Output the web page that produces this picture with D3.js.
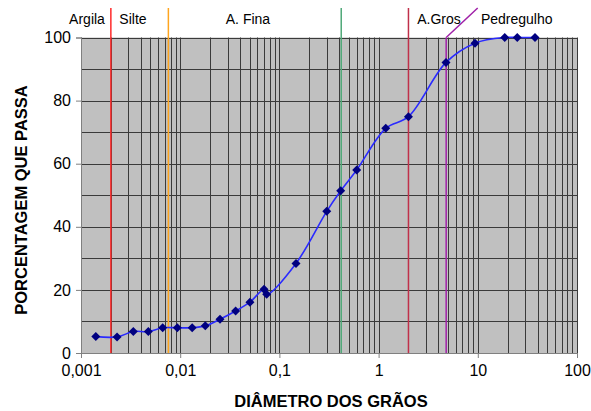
<!DOCTYPE html>
<html>
<head>
<meta charset="utf-8">
<script src="https://cdn.jsdelivr.net/npm/d3@7"></script>
<style>
  html, body { margin: 0; padding: 0; background: #ffffff; }
  svg { display: block; font-family: "Liberation Sans", Arial, sans-serif; }
</style>
</head>
<body>
<svg id="chart" width="591" height="411"></svg>
<script>
// ---- data ----
const diameters = [0.00141, 0.00231, 0.00337, 0.00477, 0.00666, 0.00935, 0.0132, 0.0179, 0.0252, 0.0362, 0.0505, 0.070, 0.0745, 0.147, 0.300, 0.415, 0.601, 1.18, 2.0, 4.78, 9.37, 18.7, 25.0, 37.7];
const passing   = [5.2, 5.1, 6.8, 6.8, 8.0, 8.0, 8.0, 8.6, 10.7, 13.3, 16.1, 20.2, 18.6, 28.4, 44.9, 51.4, 58.0, 71.2, 74.9, 92.1, 98.2, 100, 100, 100];
const xTickValues = [0.001, 0.01, 0.1, 1, 10, 100];
const xTickLabels = ["0,001", "0,01", "0,1", "1", "10", "100"];
const yTickValues = [0, 20, 40, 60, 80, 100];
const boundaryValues = [0.002, 0.0076, 0.42, 2.0, 4.8];
const boundaryColors = ["#ff2a2a", "#ffa51f", "#4fa878", "#c0304a", "#a020a8"];
const zoneLabels = ["Argila", "Silte", "A. Fina", "A.Gros", "Pedregulho"];
const zoneLabelPos = [0.00115, 0.00334, 0.0482, 4.06, 24.7];

// ---- layout ----
const W = 591, H = 411;
const L = 81, R = 577, T = 37.5, B = 353;

const svg = d3.select("#chart");
const x = d3.scaleLog().domain([0.001, 100]).range([L, R]);
const y = d3.scaleLinear().domain([0, 100]).range([B, T]);

// plot background
svg.append("rect").attr("x", L).attr("y", T).attr("width", R - L).attr("height", B - T).attr("fill", "#c0c0c0");

// vertical grid (log minor ticks)
const vTicks = x.ticks();
svg.append("g").selectAll("line").data(vTicks).join("line")
  .attr("x1", d => Math.round(x(d)) + 0.5).attr("x2", d => Math.round(x(d)) + 0.5)
  .attr("y1", T).attr("y2", B)
  .attr("stroke", "#3a3a3a").attr("stroke-width", 1);

// horizontal grid every 10
const hTicks = d3.range(10, 101, 10);
svg.append("g").selectAll("line").data(hTicks).join("line")
  .attr("x1", L).attr("x2", R)
  .attr("y1", d => Math.round(y(d)) + 0.5).attr("y2", d => Math.round(y(d)) + 0.5)
  .attr("stroke", "#3a3a3a").attr("stroke-width", 1);

// boundary lines
boundaryValues.forEach((v, i) => {
  const px = x(v);
  const top = (i === 4) ? T : 8;
  svg.append("line").attr("x1", px).attr("x2", px).attr("y1", top).attr("y2", B)
    .attr("stroke", boundaryColors[i]).attr("stroke-width", 1.5);
  if (i === 4) {
    svg.append("line").attr("x1", px).attr("y1", T).attr("x2", px + 31.5).attr("y2", 8)
      .attr("stroke", boundaryColors[i]).attr("stroke-width", 1.5);
  }
});

// axes
const xAxis = d3.axisBottom(x).tickValues(xTickValues).tickFormat((d, i) => xTickLabels[i]).tickSize(5).tickPadding(7);
const gx = svg.append("g").attr("transform", `translate(0,${B})`).call(xAxis);
gx.select(".domain").attr("stroke", "#808080");
gx.selectAll(".tick line").attr("stroke", "#808080");
gx.selectAll("text").attr("font-size", 16).attr("fill", "#000").attr("font-family", "Liberation Sans, Arial, sans-serif");

const yAxis = d3.axisLeft(y).tickValues(yTickValues).tickSize(5).tickPadding(5);
const gy = svg.append("g").attr("transform", `translate(${L},0)`).call(yAxis);
gy.select(".domain").attr("stroke", "#808080");
gy.selectAll(".tick line").attr("stroke", "#808080");
gy.selectAll("text").attr("font-size", 16).attr("fill", "#000").attr("font-family", "Liberation Sans, Arial, sans-serif");

// curve
const pts = diameters.map((d, i) => [d, passing[i]]);
const line = d3.line().x(d => x(d[0])).y(d => y(d[1])).curve(d3.curveCatmullRom.alpha(0.5));
svg.append("path").datum(pts).attr("d", line).attr("fill", "none").attr("stroke", "#2a2aff").attr("stroke-width", 1.6);

// markers
svg.append("g").selectAll("path").data(pts).join("path")
  .attr("transform", d => `translate(${x(d[0])},${y(d[1])})`)
  .attr("d", "M0,-4.5L4.5,0L0,4.5L-4.5,0Z")
  .attr("fill", "#000080");

// zone labels
svg.append("g").selectAll("text").data(zoneLabels).join("text")
  .attr("x", (d, i) => x(zoneLabelPos[i])).attr("y", 24)
  .attr("text-anchor", "middle").attr("font-size", 14).attr("fill", "#000")
  .text(d => d);

// axis titles
svg.append("text").attr("x", 331).attr("y", 407).attr("text-anchor", "middle")
  .attr("font-size", 16.5).attr("font-weight", "bold").text("DIÂMETRO DOS GRÃOS");
svg.append("text").attr("transform", "translate(27,200) rotate(-90)").attr("text-anchor", "middle")
  .attr("font-size", 16.5).attr("font-weight", "bold").text("PORCENTAGEM QUE PASSA");
</script>
</body>
</html>
